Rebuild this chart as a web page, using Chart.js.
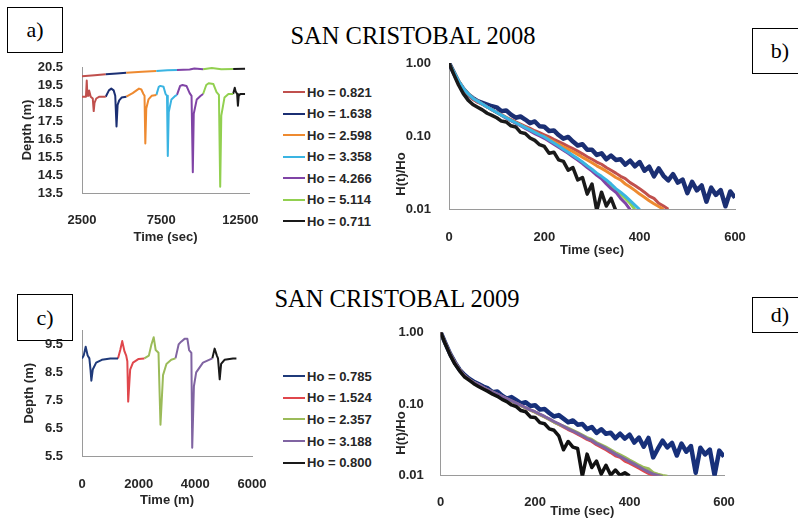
<!DOCTYPE html>
<html>
<head>
<meta charset="utf-8">
<script src="https://cdn.jsdelivr.net/npm/chart.js@4.4.0/dist/chart.umd.min.js"></script>
<style>
body { margin:0; width:798px; height:520px; overflow:hidden; background:#fff; position:relative; }
.wrap { position:absolute; }
.tag { position:absolute; border:1px solid #000; box-sizing:border-box; background:#fff;
       font:22px "Liberation Serif", serif; display:flex; align-items:center; justify-content:center; }
.title { position:absolute; width:400px; text-align:center; font:24.5px/24px "Liberation Serif", serif; color:#000; }
.ylab { position:absolute; font:bold 13px "Liberation Sans", Arial, sans-serif; color:#262626;
        transform:translate(-50%,-50%) rotate(-90deg); white-space:nowrap; }
.legend { position:absolute; left:283px; font:bold 13px "Liberation Sans", Arial, sans-serif; color:#262626; }
.legend div { display:flex; align-items:center; white-space:nowrap; }
.legend span { display:inline-block; width:22px; height:2px; margin-right:2px; }
</style>
</head>
<body>

<div class="tag" style="left:7px;top:7px;width:56px;height:46px;">a)</div>
<div class="tag" style="left:752px;top:28px;width:56px;height:46px;">b)</div>
<div class="tag" style="left:17px;top:294px;width:56px;height:47px;">c)</div>
<div class="tag" style="left:752px;top:297px;width:56px;height:36px;">d)</div>

<div class="title" style="left:213px;top:24px;">SAN CRISTOBAL 2008</div>
<div class="title" style="left:197px;top:287px;">SAN CRISTOBAL 2009</div>

<div class="wrap" style="left:0px;top:55px;width:262px;height:195px;"><canvas id="chartA"></canvas></div>
<div class="wrap" style="left:390px;top:50px;width:362px;height:212px;"><canvas id="chartB"></canvas></div>
<div class="wrap" style="left:0px;top:318px;width:272px;height:194px;"><canvas id="chartC"></canvas></div>
<div class="wrap" style="left:390px;top:318px;width:350px;height:202px;"><canvas id="chartD"></canvas></div>

<div class="ylab" style="left:400px;top:174px;">H(t)/Ho</div>
<div class="ylab" style="left:400px;top:433px;">H(t)/Ho</div>

<div class="legend" id="legendA" style="top:81.7px;"></div>
<div class="legend" id="legendC" style="top:365.2px;"></div>

<script>
// ---- 2008 slug tests (panel a) ----
const ho08 = ["0.821", "1.638", "2.598", "3.358", "4.266", "5.114", "0.711"];
const col08 = ["#c0504d", "#1b2f73", "#ee8a30", "#3ab4e2", "#8044a6", "#92d050", "#1a1a1a"];

const ho0821T = [2500, 2750, 2800, 2840, 2900, 2950, 3050, 3180, 3240, 3290, 3400, 3600, 4000];
const ho0821D = [18.85, 18.85, 19.75, 18.9, 18.9, 19.2, 18.85, 18.75, 18.05, 18.5, 18.75, 18.85, 18.85];
const ho1638T = [4000, 4200, 4350, 4500, 4600, 4680, 4750, 4850, 5000, 5300];
const ho1638D = [18.85, 19.2, 19.3, 19.2, 18.9, 17.2, 18.4, 18.65, 18.8, 18.85];
const ho2598T = [5300, 5700, 6100, 6250, 6380, 6450, 6500, 6560, 6700, 6900, 7200];
const ho2598D = [18.85, 19.05, 19.3, 19.25, 19.0, 18.9, 16.25, 18.2, 18.7, 18.9, 18.95];
const ho3358T = [7200, 7350, 7450, 7650, 7780, 7870, 7920, 7980, 8150, 8400, 8500];
const ho3358D = [18.95, 19.4, 19.45, 19.4, 19.0, 18.9, 15.55, 18.0, 18.7, 18.9, 18.95];
const ho4266T = [8500, 8700, 8850, 9100, 9300, 9420, 9500, 9560, 9750, 10000, 10150];
const ho4266D = [18.95, 19.45, 19.5, 19.45, 19.05, 18.9, 14.65, 17.9, 18.7, 18.9, 19.0];
const ho5114T = [10150, 10350, 10500, 10800, 11000, 11150, 11230, 11300, 11500, 11750, 12050];
const ho5114D = [19.0, 19.5, 19.6, 19.55, 19.1, 18.95, 13.85, 17.8, 18.8, 19.0, 19.0];
const ho0711T = [12050, 12150, 12200, 12300, 12350, 12400, 12500, 12800];
const ho0711D = [19.0, 19.35, 19.15, 19.0, 18.35, 18.9, 19.0, 19.0];

// upper logger trace, coloured by the test it belongs to
const topT = [2500, 3300, 4000, 4700, 5300, 6300, 7200, 7900, 8500, 9300, 9600, 10150, 10700, 11300, 12050, 12800];
const topD = [19.98, 20.04, 20.1, 20.14, 20.18, 20.23, 20.28, 20.32, 20.34, 20.36, 20.42, 20.38, 20.44, 20.38, 20.39, 20.4];
const segStart = [2500, 4000, 5300, 7200, 8500, 10150, 12050];

const aTicksX = [2500, 7500, 12500];
const aTicksY = [13.5, 14.5, 15.5, 16.5, 17.5, 18.5, 19.5, 20.5];

// ---- 2009 slug tests (panel c) ----
const ho09 = ["0.785", "1.524", "2.357", "3.188", "0.800"];
const col09 = ["#1f3a7a", "#e0474c", "#9bbb59", "#8064a2", "#1a1a1a"];

const ho0785T = [0, 60, 130, 200, 260, 300, 330, 380, 500, 700, 1000, 1270];
const ho0785D = [9.0, 9.1, 9.42, 9.1, 9.0, 8.6, 8.2, 8.6, 8.85, 8.95, 9.0, 9.0];
const ho1524T = [1270, 1350, 1420, 1500, 1560, 1600, 1630, 1700, 1800, 2000, 2200];
const ho1524D = [9.0, 9.3, 9.62, 9.25, 9.1, 8.9, 7.45, 8.6, 8.85, 8.98, 9.0];
const ho2357T = [2200, 2360, 2450, 2530, 2600, 2700, 2770, 2860, 2980, 3150, 3300];
const ho2357D = [9.0, 9.1, 9.5, 9.76, 9.3, 9.2, 6.62, 8.4, 8.8, 8.95, 9.0];
const ho3188T = [3300, 3410, 3500, 3620, 3720, 3780, 3860, 3890, 3950, 4030, 4270, 4600];
const ho3188D = [9.0, 9.5, 9.6, 9.7, 9.7, 9.3, 9.2, 5.8, 8.0, 8.5, 8.85, 9.0];
const ho0800T = [4600, 4680, 4760, 4800, 4860, 4910, 5030, 5330, 5450];
const ho0800D = [9.0, 9.35, 9.1, 9.0, 8.25, 8.8, 8.95, 9.0, 9.0];

const cTicksY = [5.5, 6.5, 7.5, 8.5, 9.5];

// ---- normalised head H(t)/Ho, sampled every 10 s (panels b, d) ----
const timeSec = [0,10,20,30,40,50,60,70,80,90,100,110,120,130,140,150,160,170,180,190,200,210,220,230,240,250,260,270,280,290,300,310,320,330,340,350,360,370,380,390,400,410,420,430,440,450,460,470,480,490,500,510,520,530,540,550,560,570,580,590,600];

const h08_0821 = [1.0,0.74,0.55,0.44,0.37,0.32,0.29,0.27,0.25,0.23, 0.21,0.196,0.18,0.168,0.156,0.146,0.136,0.127,0.118,0.111,
  0.104,0.097,0.09,0.084,0.078,0.072,0.067,0.062,0.057,0.052, 0.048,0.044,0.041,0.037,0.034,0.031,0.028,0.026,0.023,0.021,
  0.019,0.017,0.015,0.014,0.012,0.011,0.0099];
const h08_1638 = [1.0,0.74,0.55,0.44,0.37,0.33,0.30,0.285,0.27,0.255, 0.247,0.219,0.224,0.196,0.178,0.185,0.168,0.150,0.158,0.136,
  0.134,0.117,0.119,0.103,0.092,0.097,0.084,0.074,0.077,0.065, 0.065,0.055,0.058,0.048,0.054,0.047,0.048,0.0405,0.046,0.0385,
  0.044,0.0334,0.038,0.028,0.036,0.0285,0.0247,0.030,0.023,0.0253, 0.0165,0.0235,0.018,0.021,0.0126,0.0196,0.0156,0.0182,0.0109,0.0174, 0.0143];
const h08_2598 = [1.0,0.76,0.57,0.45,0.38,0.33,0.30,0.275,0.25,0.23, 0.21,0.193,0.178,0.164,0.152,0.141,0.13,0.121,0.112,0.104,
  0.097,0.09,0.083,0.077,0.071,0.066,0.061,0.056,0.051,0.047, 0.043,0.039,0.036,0.033,0.03,0.027,0.025,0.022,0.02,0.018,
  0.016,0.0145,0.013,0.0118,0.0108,0.0099];
const h08_3358 = [1.0,0.76,0.57,0.45,0.38,0.33,0.30,0.275,0.25,0.23, 0.21,0.193,0.178,0.164,0.152,0.141,0.13,0.121,0.112,0.104,
  0.097,0.088,0.08,0.073,0.066,0.06,0.054,0.049,0.044,0.039, 0.035,0.031,0.028,0.025,0.022,0.019,0.017,0.015,0.013,0.0113, 0.0098];
const h08_4266 = [1.0,0.75,0.56,0.45,0.38,0.33,0.30,0.275,0.25,0.23, 0.21,0.192,0.176,0.162,0.15,0.138,0.127,0.117,0.108,0.1,
  0.093,0.085,0.077,0.07,0.064,0.058,0.052,0.047,0.042,0.037, 0.033,0.029,0.026,0.022,0.019,0.017,0.014,0.012,0.0098];
const h08_5114 = [1.0,0.75,0.56,0.45,0.38,0.33,0.30,0.275,0.25,0.23, 0.21,0.192,0.177,0.163,0.151,0.14,0.129,0.119,0.11,0.102,
  0.095,0.087,0.079,0.072,0.065,0.059,0.053,0.048,0.043,0.039, 0.034,0.03,0.027,0.024,0.021,0.018,0.016,0.014,0.012,0.0099];
const h08_0711 = [1.0,0.70,0.50,0.38,0.31,0.27,0.248,0.228,0.205,0.192, 0.178,0.16,0.156,0.138,0.133,0.112,0.108,0.094,0.087,0.076,
  0.072,0.058,0.06,0.047,0.045,0.034,0.037,0.025,0.027,0.016, 0.022,0.0095,0.017,0.011,0.014,0.0095];

const h09_0785 = [1.0,0.70,0.50,0.38,0.30,0.255,0.225,0.205,0.19,0.175, 0.165,0.146,0.149,0.131,0.119,0.125,0.113,0.102,0.106,0.094,
  0.096,0.0835,0.085,0.075,0.067,0.07,0.0625,0.0555,0.059,0.0515, 0.0525,0.0446,0.0478,0.0396,0.0445,0.0384,0.0398,0.0333,0.0385,0.0329,
  0.0374,0.029,0.0339,0.0254,0.0336,0.018,0.0238,0.0308,0.0248,0.0286, 0.0191,0.028,0.0216,0.0259,0.011,0.0246,0.0198,0.0231,0.0102,0.0224, 0.0185];
const h09_1524 = [1.0,0.70,0.50,0.38,0.30,0.25,0.22,0.20,0.185,0.17, 0.157,0.146,0.136,0.127,0.118,0.11,0.102,0.095,0.088,0.082,
  0.077,0.071,0.066,0.061,0.056,0.052,0.048,0.044,0.041,0.038, 0.035,0.032,0.03,0.027,0.025,0.023,0.021,0.019,0.018,0.016,
  0.015,0.0138,0.0127,0.0117,0.0108,0.0101,0.0095];
const h09_2357 = [1.0,0.70,0.50,0.38,0.30,0.25,0.22,0.20,0.185,0.17, 0.157,0.146,0.136,0.127,0.118,0.11,0.102,0.095,0.088,0.082,
  0.077,0.071,0.066,0.061,0.056,0.052,0.049,0.046,0.043,0.04, 0.037,0.034,0.032,0.029,0.027,0.025,0.023,0.021,0.0195,0.018,
  0.0165,0.0152,0.014,0.013,0.0125,0.011,0.0105,0.0101,0.0098];
const h09_3188 = [1.0,0.70,0.50,0.38,0.30,0.25,0.22,0.20,0.186,0.171, 0.158,0.147,0.137,0.128,0.119,0.111,0.103,0.096,0.089,0.083,
  0.078,0.072,0.067,0.062,0.057,0.053,0.049,0.045,0.042,0.039, 0.036,0.033,0.031,0.028,0.026,0.024,0.022,0.02,0.0185,0.017,
  0.0157,0.0145,0.0133,0.0122,0.0113,0.0105,0.0101,0.0097];
const h09_0800 = [1.0,0.68,0.48,0.36,0.29,0.24,0.215,0.192,0.176,0.162, 0.15,0.137,0.128,0.116,0.108,0.097,0.092,0.081,0.078,0.066,
  0.065,0.055,0.053,0.045,0.043,0.036,0.023,0.03,0.025,0.024, 0.0098,0.02,0.013,0.016,0.0105,0.014,0.0102,0.012,0.0101,0.011, 0.0099];

const decayTicksX = [0, 200, 400, 600];
const decayTicksY = [0.01, 0.1, 1];

// draw order: lower number ends up on top
const order08 = [5, 6, 4, 1, 2, 3, 0];
const order09 = [4, 3, 2, 1, 0];
const width08 = [3, 4.5, 3, 3, 3, 3, 3.5];
const width09 = [4.5, 3, 3, 3, 3.5];

Chart.defaults.font.family = '"Liberation Sans", Arial, sans-serif';
Chart.defaults.font.size = 13;
Chart.defaults.font.weight = 'bold';
Chart.defaults.color = '#262626';

function pts(t, v) {
    const out = [];
    v.forEach((y, i) => { if (y != null) out.push({ x: t[i], y: y }); });
    return out;
}

// fixed axis box size, and no extra room asked for the edge labels
function axis(extra, fixSize) {
    return Object.assign({
        type: 'linear',
        grid: { display: false },
        border: { display: true, color: '#9a9a9a', width: 1 },
        afterFit: s => {
            fixSize(s);
            s.paddingLeft = 0; s.paddingRight = 0; s.paddingTop = 0; s.paddingBottom = 0;
        }
    }, extra);
}

function makeChart(id, padding, xScale, yScale, datasets) {
    return new Chart(document.getElementById(id), {
        type: 'line',
        data: { datasets: datasets },
        options: {
            responsive: true,
            maintainAspectRatio: false,
            animation: false,
            layout: { padding: padding },
            plugins: { legend: { display: false }, tooltip: { enabled: false } },
            elements: { point: { radius: 0 }, line: { tension: 0, borderWidth: 2, borderJoinStyle: 'round' } },
            scales: { x: xScale, y: yScale }
        }
    });
}

function buildLegend(id, labels, colors, rowH) {
    const el = document.getElementById(id);
    labels.forEach((lab, i) => {
        el.innerHTML += `<div style="height:${rowH}px"><span style="background:${colors[i]}"></span>Ho = ${lab}</div>`;
    });
}

// panel a
const aSeries = [[ho0821T, ho0821D], [ho1638T, ho1638D], [ho2598T, ho2598D], [ho3358T, ho3358D],
                 [ho4266T, ho4266D], [ho5114T, ho5114D], [ho0711T, ho0711D]];
const aSets = aSeries.map((s, i) => ({ data: pts(s[0], s[1]), borderColor: col08[i] }));
aSets.push({
    data: pts(topT, topD),
    borderColor: col08[0],
    segment: {
        borderColor: ctx => {
            const t = topT[ctx.p0DataIndex];
            let k = 0;
            segStart.forEach((s, i) => { if (t >= s) k = i; });
            return col08[k];
        }
    }
});
makeChart('chartA', { left: 0, top: 12, right: 13, bottom: 0 },
    axis({
        min: 2500, max: 13050,
        afterBuildTicks: s => { s.ticks = aTicksX.map(v => ({ value: v })); },
        ticks: { padding: 12, autoSkip: false, maxRotation: 0, callback: v => String(v) },
        title: { display: true, text: 'Time (sec)', padding: { top: 0, bottom: 5 } }
    }, s => { s.height = 57; }),
    axis({
        min: 13.5, max: 20.5,
        afterBuildTicks: s => { s.ticks = aTicksY.map(v => ({ value: v })); },
        ticks: { padding: 11, autoSkip: false, callback: v => v.toFixed(1) },
        title: { display: true, text: 'Depth (m)', padding: { top: 20, bottom: 0 } }
    }, s => { s.width = 82; }),
    aSets);
buildLegend('legendA', ho08, col08, 21.5);

// panel b
const bVals = [h08_0821, h08_1638, h08_2598, h08_3358, h08_4266, h08_5114, h08_0711];
makeChart('chartB', { left: 0, top: 13, right: 17, bottom: 0 },
    axis({
        min: 0, max: 600,
        afterBuildTicks: s => { s.ticks = decayTicksX.map(v => ({ value: v })); },
        ticks: { padding: 13, autoSkip: false, maxRotation: 0, callback: v => String(v) },
        title: { display: true, text: 'Time (sec)', padding: { top: 0, bottom: 4 } }
    }, s => { s.height = 53; }),
    axis({
        type: 'logarithmic', min: 0.01, max: 1,
        afterBuildTicks: s => { s.ticks = decayTicksY.map(v => ({ value: v })); },
        ticks: { padding: 10, autoSkip: false, callback: v => Number(v).toFixed(2) }
    }, s => { s.width = 59; }),
    bVals.map((v, i) => ({ data: pts(timeSec, v), borderColor: col08[i], borderWidth: width08[i], order: order08[i] })));

// panel c
const cSeries = [[ho0785T, ho0785D], [ho1524T, ho1524D], [ho2357T, ho2357D], [ho3188T, ho3188D], [ho0800T, ho0800D]];
makeChart('chartC', { left: 0, top: 12.5, right: 20, bottom: 0 },
    axis({
        min: 0, max: 6000,
        ticks: { stepSize: 2000, padding: 13, autoSkip: false, maxRotation: 0, callback: v => String(v) },
        title: { display: true, text: 'Time (m)', padding: { top: 0, bottom: 3.5 } }
    }, s => { s.height = 56; }),
    axis({
        min: 5.5, max: 10,
        afterBuildTicks: s => { s.ticks = cTicksY.map(v => ({ value: v })); },
        ticks: { padding: 11, autoSkip: false, callback: v => v.toFixed(1) },
        title: { display: true, text: 'Depth (m)', padding: { top: 21.5, bottom: 0 } }
    }, s => { s.width = 82; }),
    cSeries.map((s, i) => ({ data: pts(s[0], s[1]), borderColor: col09[i] })));
buildLegend('legendC', ho09, col09, 21.7);

// panel d
const dVals = [h09_0785, h09_1524, h09_2357, h09_3188, h09_0800];
const col09d = ["#17307a", "#e0474c", "#9bbb59", "#8064a2", "#111111"];
makeChart('chartD', { left: 0, top: 14.3, right: 16, bottom: 0 },
    axis({
        min: 0, max: 600,
        afterBuildTicks: s => { s.ticks = decayTicksX.map(v => ({ value: v })); },
        ticks: { padding: 10.5, autoSkip: false, maxRotation: 0, callback: v => String(v) },
        title: { display: true, text: 'Time (sec)', padding: { top: 0, bottom: 0.5 } }
    }, s => { s.height = 44.3; }),
    axis({
        type: 'logarithmic', min: 0.01, max: 1,
        afterBuildTicks: s => { s.ticks = decayTicksY.map(v => ({ value: v })); },
        ticks: { padding: 9, autoSkip: false, callback: v => Number(v).toFixed(2) }
    }, s => { s.width = 50.7; }),
    dVals.map((v, i) => ({ data: pts(timeSec, v), borderColor: col09d[i], borderWidth: width09[i], order: order09[i] })));
</script>
</body>
</html>
